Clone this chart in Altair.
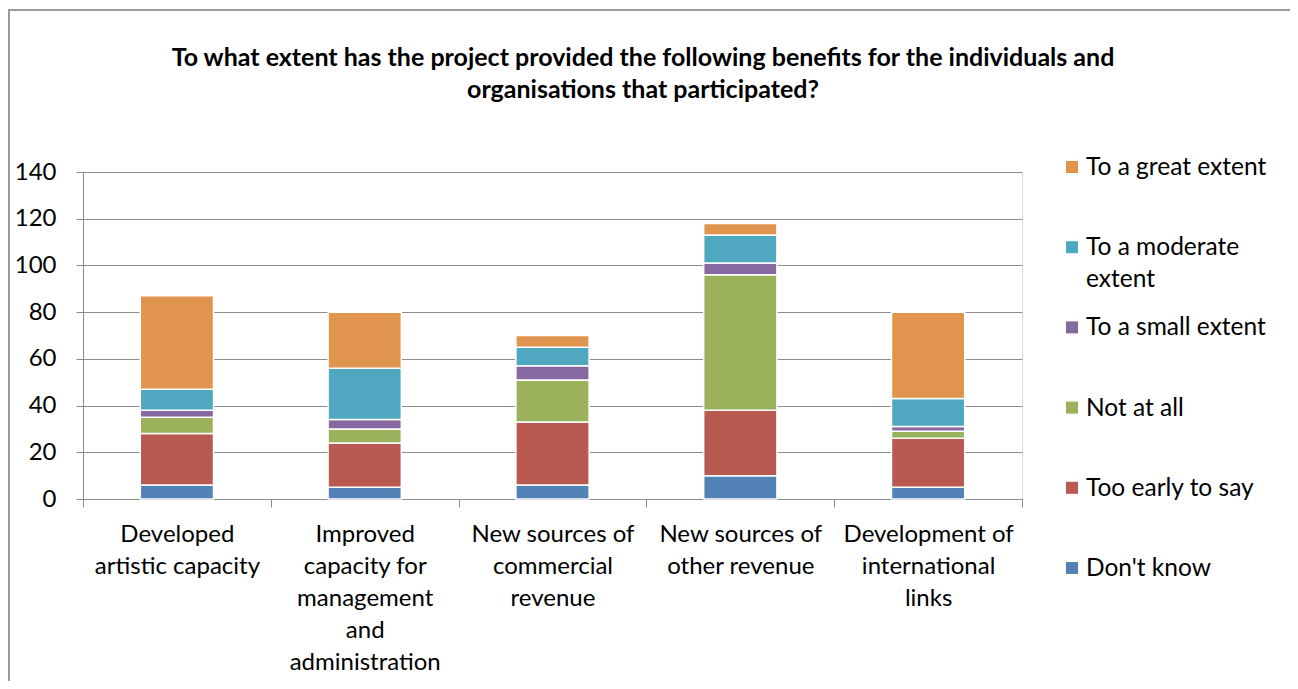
import altair as alt
import pandas as pd

categories = [
    "Developed\nartistic capacity",
    "Improved\ncapacity for\nmanagement\nand\nadministration",
    "New sources of\ncommercial\nrevenue",
    "New sources of\nother revenue",
    "Development of\ninternational\nlinks",
]
series = ["Don't know", "Too early to say", "Not at all", "To a small extent",
          "To a moderate extent", "To a great extent"]
dont_know = [6, 5, 6, 10, 5]
too_early = [22, 19, 27, 28, 21]
not_at_all = [7, 6, 18, 58, 3]
small_extent = [3, 4, 6, 5, 2]
moderate_extent = [9, 22, 8, 12, 12]
great_extent = [40, 24, 5, 5, 37]
colors = ["#5383B6", "#B85A52", "#9BB15C", "#8569A0", "#4FA8BF", "#E0944D"]
legend_order = ["To a great extent", "To a moderate extent", "To a small extent",
                "Not at all", "Too early to say", "Don't know"]
legend_text = ["To a great extent", "To a moderate\nextent", "To a small extent",
               "Not at all", "Too early to say", "Don't know"]
title_text = ("To what extent has the project provided the following benefits for the individuals and\n"
              "organisations that participated?")

values = [dont_know, too_early, not_at_all, small_extent, moderate_extent, great_extent]
rows = []
for si, s in enumerate(series):
    for ci, c in enumerate(categories):
        rows.append({"category": c, "series": s, "value": values[si][ci], "order": si})
df = pd.DataFrame(rows)
leg = pd.DataFrame({"series": legend_order, "label": legend_text})

FONT = "Lato"
GRAY = "#8c8c8c"
W, H = 939, 327

color = alt.Color("series:N", scale=alt.Scale(domain=series, range=colors), legend=None)

bars = alt.Chart(df).mark_bar(width={"band": 0.39}, stroke="white", strokeWidth=1.5).encode(
    x=alt.X("category:N", sort=categories,
            scale=alt.Scale(paddingInner=0, paddingOuter=0),
            axis=alt.Axis(title=None, labelAngle=0, tickBand="extent", tickSize=8,
                          labelExpr="split(datum.label, '\\n')", labelLineHeight=32,
                          labelFontSize=24, labelFont=FONT, labelColor="black",
                          labelPadding=15, labelLimit=400, domainColor=GRAY,
                          tickColor=GRAY, grid=False, labelBaseline="top")),
    y=alt.Y("value:Q", stack="zero",
            scale=alt.Scale(domain=[0, 140], nice=False),
            axis=alt.Axis(title=None, values=list(range(0, 141, 20)), tickSize=7,
                          labelPadding=20, labelFontSize=24, labelFont=FONT,
                          labelColor="black", domainColor=GRAY, tickColor=GRAY,
                          gridColor=GRAY, grid=True)),
    color=color,
    order=alt.Order("order:Q"),
)

leg_y = alt.Y("series:N", sort=legend_order, axis=None,
              scale=alt.Scale(type="point", range=[-5, 396], padding=0))
leg_sym = alt.Chart(leg).mark_square(size=144, opacity=1, filled=True).encode(
    x=alt.value(989), y=leg_y, color=color)
leg_txt = alt.Chart(leg).mark_text(align="left", baseline="top", dy=-11, lineBreak="\n",
                                   lineHeight=32, font=FONT, fontSize=24.5, color="black").encode(
    x=alt.value(1003), y=leg_y, text="label:N")

title = alt.Chart(pd.DataFrame({"t": [title_text]})).mark_text(
    align="center", baseline="top", lineBreak="\n", lineHeight=32, font=FONT,
    fontSize=25, fontWeight="bold", color="black").encode(
    x=alt.value(560), y=alt.value(-126), text="t:N")

frame = alt.Chart(pd.DataFrame({"a": [0]})).mark_rect(
    fillOpacity=0, stroke="#9a9a9a", strokeWidth=2).encode(
    x=alt.value(-74), x2=alt.value(1400), y=alt.value(-162), y2=alt.value(800))

chart = alt.layer(frame, bars, leg_sym, leg_txt, title).resolve_scale(y="independent").properties(
    width=W, height=H,
    autosize=alt.AutoSizeParams(type="none"),
    padding={"left": 75, "top": 164, "right": 268, "bottom": 182},
).configure_view(stroke=None).configure(background="white")

chart.save("out.html", embed_options={"renderer": "svg", "actions": False})
